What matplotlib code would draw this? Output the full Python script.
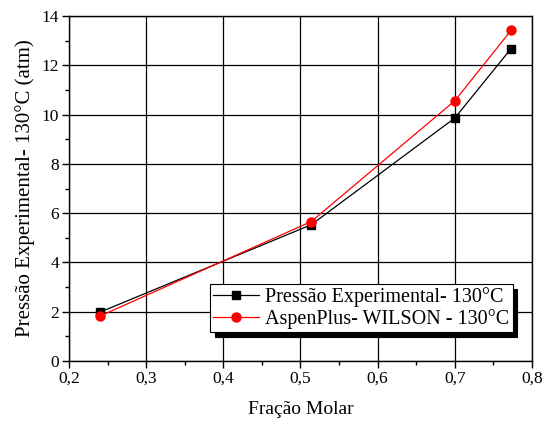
import matplotlib
matplotlib.use("Agg")
import matplotlib.pyplot as plt
from matplotlib.ticker import FuncFormatter, MultipleLocator

# dados
fracao = [0.24, 0.514, 0.70, 0.773]
pressao_exp = [1.98, 5.53, 9.86, 12.68]
pressao_wilson = [1.82, 5.66, 10.56, 13.42]

label_exp = "Pressão Experimental- 130°C"
label_wilson = "AspenPlus- WILSON - 130°C"

plt.rcParams['font.family'] = ['Liberation Serif', 'DejaVu Serif']

fig = plt.figure(figsize=(5.42, 4.26), dpi=100)
ax = fig.add_axes([0.1273, 0.1526, 0.8542, 0.8098])

ax.plot(fracao, pressao_exp, color='black', lw=0.9, marker='s', ms=5.5, label=label_exp, zorder=3)
ax.plot(fracao, pressao_wilson, color='red', lw=0.9, marker='o', ms=6.5, label=label_wilson, zorder=4)

ax.set_xlim(0.2, 0.8)
ax.set_ylim(0, 14)
ax.xaxis.set_major_locator(MultipleLocator(0.1))
ax.xaxis.set_minor_locator(MultipleLocator(0.05))
ax.yaxis.set_major_locator(MultipleLocator(2))
ax.yaxis.set_minor_locator(MultipleLocator(1))
ax.xaxis.set_major_formatter(FuncFormatter(lambda v, p: ("%.1f" % v).replace('.', ',')))
ax.yaxis.set_major_formatter(FuncFormatter(lambda v, p: "%d" % round(v)))

ax.grid(True, which='major', color='black', lw=0.9)
ax.tick_params(which='both', direction='out', labelsize=12.5, width=1, top=False, right=False)
ax.tick_params(which='major', length=5, pad=2)
ax.tick_params(which='minor', length=3)
for s in ax.spines.values():
    s.set_linewidth(1)

ax.set_xlabel('Fração Molar', fontsize=14, labelpad=10)
ax.set_ylabel('Pressão Experimental- 130°C (atm)', fontsize=15, labelpad=5)

leg = ax.legend(loc='upper right', bbox_to_anchor=(0.958, 0.222), fontsize=14.5,
                fancybox=False, framealpha=1, edgecolor='black',
                shadow={'ox': 3.5, 'oy': -3.5, 'color': 'black', 'alpha': 1},
                handlelength=2.3, handletextpad=0.3, borderpad=0.15,
                labelspacing=0.1, borderaxespad=0)
leg.get_frame().set_linewidth(0.8)

fig.savefig('out.png', dpi=100)
